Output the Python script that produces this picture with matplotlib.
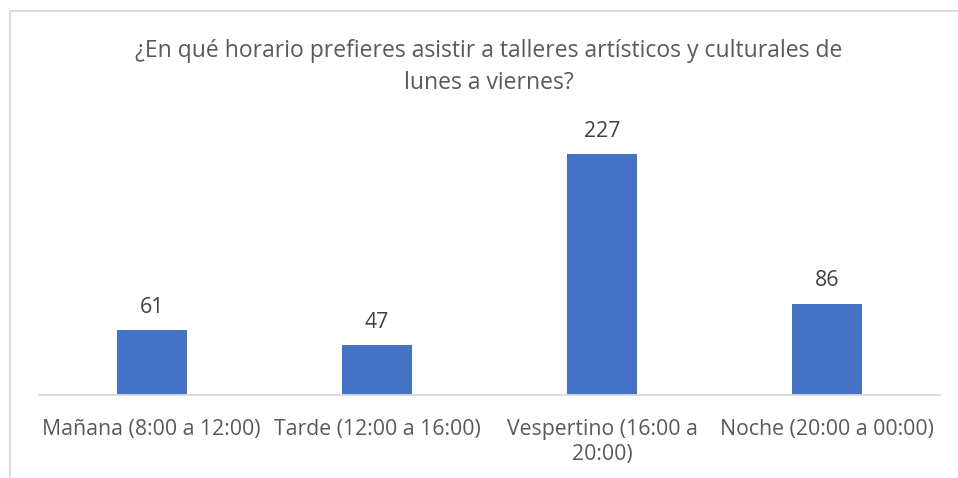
import matplotlib
matplotlib.use("Agg")
import matplotlib.pyplot as plt
from matplotlib.patches import Rectangle

categories = ["Mañana (8:00 a 12:00)", "Tarde (12:00 a 16:00)",
              "Vespertino (16:00 a\n20:00)", "Noche (20:00 a 00:00)"]
values = [61, 47, 227, 86]
title = "¿En qué horario prefieres asistir a talleres artísticos y culturales de\nlunes a viernes?"

W, H = 958, 478
plt.rcParams['font.family'] = ['Open Sans', 'DejaVu Sans']
fig = plt.figure(figsize=(W/100, H/100), dpi=100)
fig.patch.set_facecolor('white')

# chart frame (extends past the image on right/bottom)
fig.add_artist(Rectangle((10/W, -0.1), 1.2, (H-11)/H + 0.1, transform=fig.transFigure,
                         fill=False, edgecolor='#d9d9d9', linewidth=1.3))

ax = fig.add_axes([39/W, (H-395)/H, (940-39)/W, (395-130)/H])
x = list(range(len(values)))
bars = ax.bar(x, values, width=0.31, color='#4472C4', zorder=2)
ax.set_xlim(-0.5, 3.5)
ax.set_ylim(0, 250)
for s in ['top', 'right', 'left']:
    ax.spines[s].set_visible(False)
ax.spines['bottom'].set_color('#d9d9d9')
ax.spines['bottom'].set_linewidth(1.3)
ax.set_yticks([])
ax.set_xticks(x)
ax.set_xticklabels(categories, fontsize=15.3, color='#595959', linespacing=1.28)
ax.tick_params(axis='x', length=0, pad=17)

for xi, v in zip(x, values):
    ax.annotate(str(v), (xi, v), xytext=(0, 16.5), textcoords='offset points',
                ha='center', va='center', fontsize=15.3, color='#404040')

fig.text(489/W, 1 - 67/H, title, ha='center', va='center', fontsize=16.5,
         color='#595959', linespacing=1.45)

fig.savefig('out.png', dpi=100, facecolor='white')
